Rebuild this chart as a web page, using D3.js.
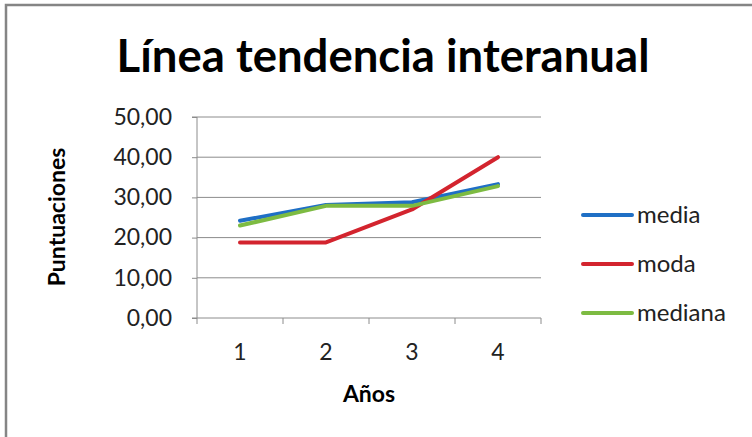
<!DOCTYPE html>
<html>
<head>
<meta charset="utf-8">
<script src="https://cdn.jsdelivr.net/npm/d3@7"></script>
<style>
  html, body { margin: 0; padding: 0; background: #fff; }
  text { font-family: Lato, "Open Sans", sans-serif; }
</style>
</head>
<body>
<div id="chart"></div>
<script>
const years   = [1, 2, 3, 4];
const media   = [24.2, 28.1, 28.8, 33.3];
const moda    = [18.8, 18.8, 27.0, 40.0];
const mediana = [23.0, 27.9, 27.9, 32.8];
const yTicks  = [0, 10, 20, 30, 40, 50];

const series = [
    {name: "media",   values: media,   color: "#1f6fc5"},
    {name: "moda",    values: moda,    color: "#d3242e"},
    {name: "mediana", values: mediana, color: "#7dbb42"}
];

const width  = 752;
const height = 437;
const plot = {left: 197, right: 541, top: 117, bottom: 318};

const svg = d3.select("#chart")
    .append("svg")
    .attr("width",  width)
    .attr("height", height)

// frame (only top and left edges visible)
svg.append("path")
    .attr("d", `M6,${height} V5 H${width}`)
    .attr("fill", "none")
    .attr("stroke", "#858585")
    .attr("stroke-width", 2.5)

svg.append("text")
    .text("Línea tendencia interanual")
    .attr("x", 383)
    .attr("y", 72)
    .attr("text-anchor", "middle")
    .attr("font-size", 45.5)
    .attr("font-weight", "bold")
    .attr("fill", "#000")

const x = d3.scaleBand().domain(years).range([plot.left, plot.right])
const y = d3.scaleLinear().domain([0, 50]).range([plot.bottom, plot.top])

const fmt = d => d3.format(".2f")(d).replace(".", ",")

// grid
svg.append("g")
    .selectAll("line")
    .data(yTicks.slice(1))
    .join("line")
        .attr("x1", plot.left)
        .attr("x2", plot.right)
        .attr("y1", d => y(d))
        .attr("y2", d => y(d))
        .attr("stroke", "#8c8c8c")
        .attr("stroke-width", 1)

const yAxis = d3.axisLeft(y).tickValues(yTicks).tickFormat(fmt).tickSize(5).tickPadding(20)
const yAxisGroup = svg.append("g")
    .attr("transform", `translate(${plot.left}, 0)`)
    .call(yAxis)
yAxisGroup.select(".domain").attr("stroke", "#8c8c8c").attr("d", `M-5,${plot.top}H0V${plot.bottom}H-5`)
yAxisGroup.selectAll(".tick line").attr("stroke", "#8c8c8c")
yAxisGroup.selectAll("text").attr("font-size", 23).attr("fill", "#222").attr("font-family", "Lato, sans-serif")

const xAxis = d3.axisBottom(x).tickSize(0).tickPadding(26)
const xAxisGroup = svg.append("g")
    .attr("transform", `translate(0, ${plot.bottom})`)
    .call(xAxis)
xAxisGroup.select(".domain").attr("stroke", "#8c8c8c").attr("d", `M${plot.left},0H${plot.right}`)
xAxisGroup.selectAll("text").attr("font-size", 23).attr("fill", "#222").attr("font-family", "Lato, sans-serif")
// category separators
svg.append("g")
    .selectAll("line")
    .data(years)
    .join("line")
        .attr("x1", d => x(d) + x.bandwidth())
        .attr("x2", d => x(d) + x.bandwidth())
        .attr("y1", plot.bottom)
        .attr("y2", plot.bottom + 6)
        .attr("stroke", "#8c8c8c")
svg.append("line")
    .attr("x1", plot.left).attr("x2", plot.left)
    .attr("y1", plot.bottom).attr("y2", plot.bottom + 6)
    .attr("stroke", "#8c8c8c")

svg.append("text")
    .text("Años")
    .attr("x", 369)
    .attr("y", 402)
    .attr("text-anchor", "middle")
    .attr("font-size", 23)
    .attr("font-weight", "bold")

svg.append("text")
    .text("Puntuaciones")
    .attr("transform", "translate(65, 217) rotate(-90)")
    .attr("text-anchor", "middle")
    .attr("font-size", 23)
    .attr("font-weight", "bold")

const line = d3.line()
    .x((d, i) => x(years[i]) + x.bandwidth() / 2)
    .y(d => y(d))

svg.append("g")
    .selectAll("path")
    .data(series)
    .join("path")
        .attr("d", d => line(d.values))
        .attr("fill", "none")
        .attr("stroke", d => d.color)
        .attr("stroke-width", 4)
        .attr("stroke-linejoin", "round")
        .attr("stroke-linecap", "round")

const legend = svg.append("g")
    .selectAll("g")
    .data(series)
    .join("g")
        .attr("transform", (d, i) => `translate(581, ${215 + i * 49})`)
legend.append("line")
    .attr("x1", 2).attr("x2", 51)
    .attr("stroke", d => d.color)
    .attr("stroke-width", 4)
    .attr("stroke-linecap", "round")
legend.append("text")
    .text(d => d.name)
    .attr("x", 56)
    .attr("y", 8)
    .attr("font-size", 24)
    .attr("fill", "#222")
</script>
</body>
</html>
